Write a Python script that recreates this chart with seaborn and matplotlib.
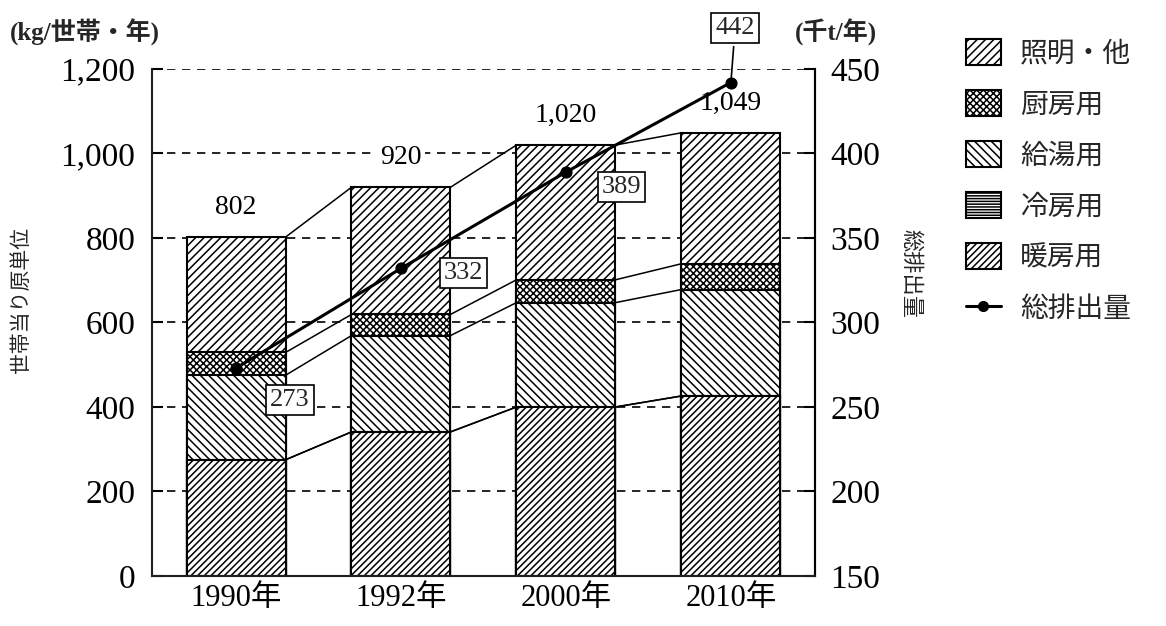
import numpy as np
import pandas as pd
import matplotlib.pyplot as plt
import seaborn as sns
from matplotlib.patches import Patch
from matplotlib.lines import Line2D

# データ (kg/世帯・年) と 総排出量 (千t/年)
years = ['1990年', '1992年', '2000年', '2010年']
heating = [275, 341, 400, 426]     # 暖房用
cooling = [0, 0, 0, 0]             # 冷房用
hot_water = [200, 228, 247, 252]   # 給湯用
kitchen = [54, 50, 54, 61]         # 厨房用
lighting = [273, 301, 319, 310]    # 照明・他
total_labels = ['802', '920', '1,020', '1,049']
emission = [273, 332, 389, 442]    # 総排出量
left_ticks = [0, 200, 400, 600, 800, 1000, 1200]
left_ticklabels = ['0', '200', '400', '600', '800', '1,000', '1,200']
right_ticks = [150, 200, 250, 300, 350, 400, 450]

sns.set_theme(style='white')
plt.rcParams['font.family'] = ['Liberation Serif', 'Noto Sans CJK JP']
plt.rcParams['hatch.linewidth'] = 1.1
plt.rcParams['hatch.color'] = 'black'

layers = [('暖房用', heating, '/////'),
          ('冷房用', cooling, '------'),
          ('給湯用', hot_water, '\\\\\\\\'),
          ('厨房用', kitchen, 'xxxxx'),
          ('照明・他', lighting, '////')]

df = pd.DataFrame({'year': years})
cum = np.zeros(len(years))
for name, vals, h in layers:
    cum = cum + np.array(vals)
    df[name] = cum

fig = plt.figure(figsize=(11.66, 6.26), dpi=100)
ax = fig.add_axes([0.1304, 0.0799, 0.699 - 0.1304, 0.8898 - 0.0799])

bar_w = 0.6
# 積み上げ: 上の層から順に重ねて描く
for name, vals, h in reversed(layers):
    sns.barplot(data=df, x='year', y=name, color='white', edgecolor='black',
                linewidth=1.5, hatch=h, width=bar_w, errorbar=None, ax=ax,
                saturation=1, zorder=2)

# 棒の間の接続線
pos = np.arange(len(years))
for name, vals, h in layers:
    for i in range(len(years) - 1):
        ax.plot([pos[i] + bar_w / 2, pos[i + 1] - bar_w / 2],
                [df[name][i], df[name][i + 1]], color='black', lw=1.1, zorder=1.5)

# 合計ラベル
for i, lab in enumerate(total_labels):
    ax.text(pos[i], df['照明・他'][i] + 40, lab, ha='center', va='bottom',
            fontsize=20, color='black', zorder=3,
            bbox=dict(boxstyle='square,pad=0.1', facecolor='white', edgecolor='none'))

ax.set_ylim(0, 1200)
ax.set_xlim(-0.509, 3.51)
ax.set_yticks(left_ticks)
ax.set_yticklabels(left_ticklabels)
ax.set_xlabel('')
ax.set_ylabel('')
ax.yaxis.grid(True, color='black', linestyle=(0, (5, 4)), lw=1.2)
ax.xaxis.grid(False)
ax.set_axisbelow(True)
ax.tick_params(axis='y', direction='in', length=8, width=1.5, labelsize=24,
               pad=12, colors='black')
ax.tick_params(axis='x', direction='in', length=5, width=1.2, labelsize=22,
               pad=6, colors='black')
ax.spines['top'].set_visible(False)
for s in ['left', 'right', 'bottom']:
    ax.spines[s].set_color('black')
    ax.spines[s].set_linewidth(1.5)

# 総排出量 (右軸)
ax2 = ax.twinx()
sns.lineplot(x=pos, y=emission, ax=ax2, color='black', lw=2.2, marker='o',
             markersize=8, markeredgecolor='black', zorder=5)
ax2.set_ylim(150, 450)
ax2.set_yticks(right_ticks)
ax2.set_ylabel('')
ax2.tick_params(axis='y', direction='in', length=8, width=1.5, labelsize=24,
                pad=11, colors='black')
ax2.spines['top'].set_visible(False)
ax2.spines['right'].set_linewidth(1.5)
ax2.spines['right'].set_color('black')
ax2.grid(False)

box = dict(boxstyle='square,pad=0.15', facecolor='white', edgecolor='black', lw=1.2)
offsets = [(39, -23), (45, -3), (40, -11), (3, 39)]
for i, (v, off) in enumerate(zip(emission, offsets)):
    arrow = dict(arrowstyle='-', color='black', lw=1.2) if i == 3 else None
    ax2.annotate(str(v), xy=(pos[i], v), xytext=off, textcoords='offset points',
                 ha='center', va='center', fontsize=19, bbox=box,
                 arrowprops=arrow, annotation_clip=False, zorder=6)

# 軸タイトル・単位
fig.text(10 / 1166, 1 - 32 / 626, '(kg/世帯・年)', ha='left', va='center',
         fontsize=18, fontweight='bold')
fig.text(795 / 1166, 1 - 32 / 626, '(千t/年)', ha='left', va='center',
         fontsize=18, fontweight='bold')
fig.text(22 / 1166, 1 - 300 / 626, '世帯当り原単位', rotation=90, ha='center',
         va='center', fontsize=15)
fig.text(910 / 1166, 1 - 273 / 626, '総排出量', rotation=-90, ha='center',
         va='center', fontsize=16)

# 凡例
handles = [Patch(facecolor='white', edgecolor='black', hatch=h, lw=1.5)
           for name, vals, h in reversed(layers)]
labels = [name for name, vals, h in reversed(layers)]
handles.append(Line2D([0], [0], color='black', lw=2.2, marker='o', markersize=7))
labels.append('総排出量')
fig.legend(handles, labels, loc='upper left', bbox_to_anchor=(952 / 1166, 1 - 25 / 626),
           frameon=False, fontsize=20, handlelength=1.25, handleheight=1.05,
           labelspacing=0.82, handletextpad=0.7, borderpad=0)

plt.savefig('out.png', dpi=100)
plt.close()
